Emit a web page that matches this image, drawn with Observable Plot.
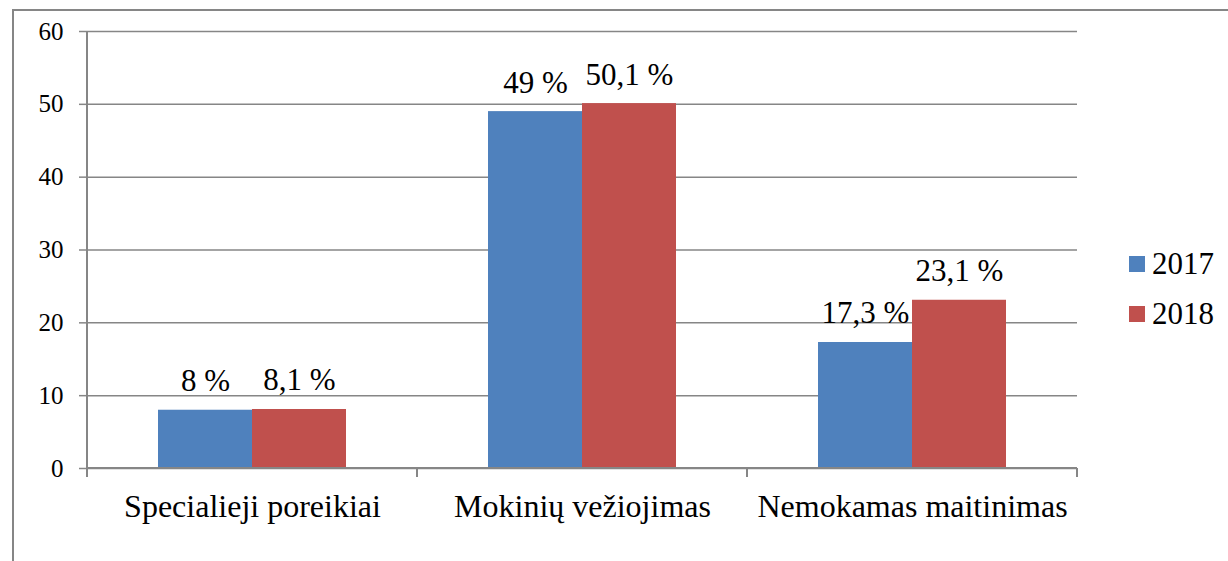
<!DOCTYPE html>
<html>
<head>
<meta charset="utf-8">
<script src="https://cdn.jsdelivr.net/npm/d3@7"></script>
<script src="https://cdn.jsdelivr.net/npm/@observablehq/plot@0.6"></script>
<style>
  html, body { margin: 0; padding: 0; background: #fff; overflow: hidden; }
  body { width: 1228px; height: 561px; position: relative; font-family: 'Liberation Serif'; }
  svg text { font-family: 'Liberation Serif' !important; }
  #frame { position: absolute; left: 12px; top: 9px; width: 1300px; height: 700px; border: 2px solid #868686; box-sizing: border-box; pointer-events: none; }
  #chart { position: absolute; left: 0; top: 0; }
  #legend { position: absolute; left: 1129px; top: 239px; font-size: 31px; color: #000; font-family: 'Liberation Serif'; }
  #legend .row { display: flex; align-items: center; height: 50px; }
  #legend .sw { width: 16px; height: 16px; margin-right: 7px; }
</style>
</head>
<body>
<div id="chart"></div>
<div id="legend"></div>
<div id="frame"></div>
<script>
const categories = ["Specialieji poreikiai", "Mokinių vežiojimas", "Nemokamas maitinimas"];
const years = ["2017", "2018"];
const values2017 = [8, 49, 17.3];
const values2018 = [8.1, 50.1, 23.1];
const colors = ["#4F81BD", "#C0504D"];
const yTicks = [0, 10, 20, 30, 40, 50, 60];
const FONT = "Liberation Serif";

const data = [];
categories.forEach((c, i) => {
  data.push({category: c, year: years[0], value: values2017[i]});
  data.push({category: c, year: years[1], value: values2018[i]});
});
const fmt = v => String(v).replace(".", ",") + " %";

const plot = Plot.plot({
  width: 1228,
  height: 561,
  marginLeft: 87,
  marginRight: 151,
  marginTop: 31,
  marginBottom: 93,
  style: {fontFamily: FONT, background: "white", color: "black"},
  fx: {domain: categories, padding: 0, label: null},
  x: {domain: years, paddingInner: 0, paddingOuter: 0.755, axis: null},
  y: {domain: [0, 60], label: null},
  color: {domain: years, range: colors},
  marks: [
    Plot.gridY(yTicks, {stroke: "#868686", strokeOpacity: 1, strokeWidth: 1.5}),
    Plot.barY(data, {fx: "category", x: "year", y: "value", fill: "year"}),
    Plot.text(data, {fx: "category", x: "year", y: "value", text: d => fmt(d.value), dy: -29, fontSize: 31, fontFamily: FONT, fill: "black"}),
    Plot.axisY(yTicks, {tickSize: 8, tickPadding: 16, fontSize: 25, fontFamily: FONT, stroke: "#868686", strokeWidth: 1.5, fill: "black", tickFormat: d => String(d), label: null}),
    Plot.axisFx({anchor: "bottom", tickSize: 0, tickPadding: 26, fontSize: 32, fontFamily: FONT, fill: "black", label: null})
  ]
});
document.getElementById("chart").appendChild(plot);
d3.select(plot).selectAll("text").style("font-family", FONT);

// axis line and category boundary ticks from the library's scales
const fx = plot.scale("fx");
const ys = plot.scale("y");
const y0 = ys.apply(0), yTop = ys.apply(60);
const g = d3.select(plot).append("g").attr("stroke", "#868686").attr("stroke-width", 2);
const bounds = categories.map(c => fx.apply(c)).concat([fx.apply(categories[categories.length - 1]) + fx.bandwidth]);
g.append("line").attr("x1", bounds[0]).attr("x2", bounds[0]).attr("y1", yTop).attr("y2", y0 + 9);
bounds.slice(1).forEach(b => {
  g.append("line").attr("x1", b).attr("x2", b).attr("y1", y0).attr("y2", y0 + 9);
});
g.append("line").attr("x1", bounds[0]).attr("x2", bounds[bounds.length - 1]).attr("y1", y0).attr("y2", y0);

// legend
const legend = document.getElementById("legend");
years.forEach((yr, i) => {
  const row = document.createElement("div");
  row.className = "row";
  const sw = document.createElement("div");
  sw.className = "sw";
  sw.style.background = colors[i];
  const t = document.createElement("span");
  t.textContent = yr;
  t.style.fontFamily = FONT;
  row.appendChild(sw); row.appendChild(t);
  legend.appendChild(row);
});
</script>
</body>
</html>
